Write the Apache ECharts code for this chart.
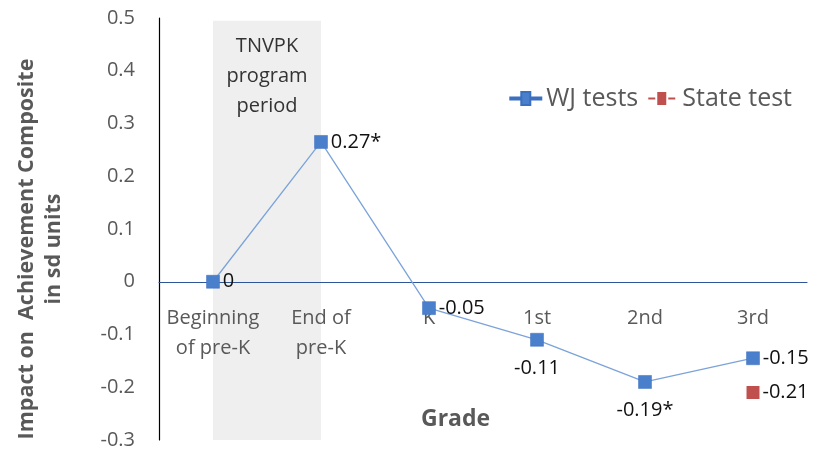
<!DOCTYPE html>
<html><head><meta charset="utf-8">
<script src="https://cdn.jsdelivr.net/npm/echarts@6/dist/echarts.min.js"></script>
<style>html,body{margin:0;padding:0;background:#fff}#c{width:816px;height:449px}</style>
</head><body><div id="c"></div>
<script>
var categories = ['Beginning\nof pre-K', 'End of\npre-K', 'K', '1st', '2nd', '3rd'];
var wjValues = [0, 0.265, -0.05, -0.11, -0.19, -0.145];
var wjLabels = ['0', '0.27*', '-0.05', '-0.11', '-0.19*', '-0.15'];
var wjLabelPos = ['right', 'right', 'right', 'bottom', 'bottom', 'right'];
var stateValues = [null, null, null, null, null, -0.21];
var stateLabels = ['', '', '', '', '', '-0.21'];
var yTicks = [-0.3, -0.2, -0.1, 0, 0.1, 0.2, 0.3, 0.4, 0.5];
var bandText = 'TNVPK\nprogram\nperiod';

var FONT = '"Open Sans", sans-serif';
var GRID = {left: 159, right: 9, top: 18, bottom: 9, height: 422};
var yMin = yTicks[0], yMax = yTicks[yTicks.length - 1];
var zeroOffset = -GRID.height * (0 - yMin) / (yMax - yMin);

var chart = echarts.init(document.getElementById('c'));
chart.setOption({
  animation: false,
  textStyle: {fontFamily: FONT},
  title: {text: 'Grade', left: 416, top: 403, textStyle: {fontFamily: FONT, fontSize: 23, fontWeight: 'bold', color: '#595959'}},
  legend: {
    right: 19, top: 81, itemWidth: 31, itemHeight: 13, itemGap: 10,
    textStyle: {fontFamily: FONT, fontSize: 25, color: '#595959'},
    data: [
      {name: 'WJ tests', icon: 'path://M0,5.5L11,5.5L11,0L20,0L20,5.5L31,5.5L31,7.5L20,7.5L20,13L11,13L11,7.5L0,7.5Z'},
      {name: 'State test', icon: 'path://M2,5.5L9,5.5L9,7.5L2,7.5Z M11,0L20,0L20,13L11,13Z M22,5.5L29,5.5L29,7.5L22,7.5Z'}
    ]
  },
  grid: {left: GRID.left, right: GRID.right, top: GRID.top, bottom: GRID.bottom, containLabel: false, outerBoundsMode: 'none'},
  xAxis: {
    type: 'category', data: categories, boundaryGap: true, offset: zeroOffset, z: 2,
    axisLine: {onZero: false, lineStyle: {color: '#2E5597', width: 1.2}},
    axisTick: {show: false},
    axisLabel: {interval: 0, hideOverlap: false, margin: 22, fontSize: 20, color: '#595959', lineHeight: 30, fontFamily: FONT}
  },
  yAxis: {
    type: 'value', min: yMin, max: yMax, interval: 0.1, z: 2,
    axisLine: {show: true, lineStyle: {color: '#000', width: 1.2}},
    axisTick: {show: false}, splitLine: {show: false},
    axisLabel: {fontSize: 20, color: '#595959', margin: 24, fontFamily: FONT,
      formatter: function (v) { return String(Math.round(v * 10) / 10); }},
    name: 'Impact on  Achievement Composite\nin sd units', nameLocation: 'middle', nameRotate: 90, nameGap: 92,
    nameTextStyle: {fontSize: 21.5, fontWeight: 'bold', color: '#595959', lineHeight: 27, fontFamily: FONT, padding: [0, 40, 0, 0]}
  },
  series: [
    {
      name: 'band', type: 'line', data: [], z: 1, silent: true,
      markArea: {
        silent: true,
        itemStyle: {color: '#EFEFEF'},
        label: {show: true, position: 'insideTop', distance: 11, color: '#333', fontSize: 20, lineHeight: 30, fontFamily: FONT},
        data: [[{name: bandText, xAxis: categories[0], yAxis: yMax - 0.005}, {xAxis: categories[1], yAxis: yMin}]]
      }
    },
    {
      name: 'WJ tests', type: 'line', symbol: 'rect', symbolSize: 13,
      itemStyle: {color: '#4A7FCC', borderColor: '#3B6FBF', borderWidth: 0.5},
      lineStyle: {color: '#7BA3DA', width: 1.3},
      data: wjValues.map(function (v, i) {
        return {value: v, label: {position: wjLabelPos[i], distance: i === 3 || i === 4 ? 12 : 3}};
      }),
      label: {show: true, fontSize: 20, color: '#111', fontFamily: FONT,
        formatter: function (p) { return wjLabels[p.dataIndex]; }},
      z: 3
    },
    {
      name: 'State test', type: 'line', symbol: 'rect', symbolSize: 13,
      itemStyle: {color: '#C0504D'}, lineStyle: {color: '#C0504D', width: 1.3},
      data: stateValues,
      label: {show: true, position: 'right', distance: 3, fontSize: 20, color: '#111', fontFamily: FONT,
        formatter: function (p) { return stateLabels[p.dataIndex]; }},
      z: 3
    }
  ]
});
</script></body></html>
